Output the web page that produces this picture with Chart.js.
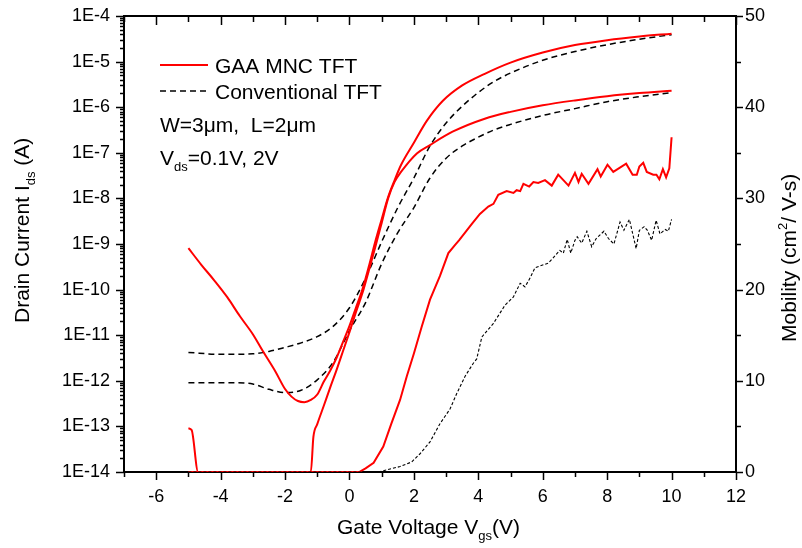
<!DOCTYPE html>
<html>
<head>
<meta charset="utf-8">
<script src="https://cdn.jsdelivr.net/npm/chart.js@4.4.1/dist/chart.umd.min.js"></script>
<style>
  html, body { margin: 0; padding: 0; background: #fff; }
</style>
</head>
<body>
<canvas id="grafica" width="802" height="548"></canvas>
<script>
// ejes
const vgsTicks = [-6, -4, -2, 0, 2, 4, 6, 8, 10, 12];
const idsTicks = [1e-14, 1e-13, 1e-12, 1e-11, 1e-10, 1e-9, 1e-8, 1e-7, 1e-6, 1e-5, 1e-4];
const idsTickLabels = ['1E-14', '1E-13', '1E-12', '1E-11', '1E-10', '1E-9', '1E-8', '1E-7', '1E-6', '1E-5', '1E-4'];
const mobTicks = [0, 10, 20, 30, 40, 50];

// GAA MNC TFT, Vds = 2V
const vgsGaa2 = [-5, -4.6, -4.2, -3.8, -3.4, -3.0, -2.7, -2.3, -2.0, -1.8, -1.6, -1.4, -1.2, -1.0, -0.8, -0.6, -0.4, -0.2, 0, 0.2, 0.4, 0.6, 0.8, 1.0, 1.2, 1.4, 1.6, 2.0, 2.4, 2.9, 3.5, 4.2, 5.0, 6.0, 7.0, 8.0, 9.0, 10];
const idsGaa2 = [8.1e-10, 3.5e-10, 1.6e-10, 6.9e-11, 2.6e-11, 1.05e-11, 4.6e-12, 1.6e-12, 6.6e-13, 4.5e-13, 3.6e-13, 3.4e-13, 3.8e-13, 5.0e-13, 9.5e-13, 1.66e-12, 3.2e-12, 7.1e-12, 1.6e-11, 4.0e-11, 1.0e-10, 3.2e-10, 1.12e-9, 3.5e-9, 1.07e-8, 2.5e-8, 5.4e-8, 1.66e-7, 5.0e-7, 1.38e-6, 3.0e-6, 5.4e-6, 9.5e-6, 1.58e-5, 2.3e-5, 2.95e-5, 3.55e-5, 4.1e-5];

// GAA MNC TFT, Vds = 0.1V
const vgsGaa01 = [-5, -4.9, -4.7, -1.2, -1.12, -1.0, -0.8, -0.6, -0.4, -0.2, 0, 0.2, 0.4, 0.6, 0.8, 1.0, 1.2, 1.4, 1.6, 2.1, 2.5, 3.2, 4.2, 5.0, 6.0, 7.0, 8.0, 9.0, 10];
const idsGaa01 = [9.1e-14, 8.3e-14, 1e-14, 1e-14, 5.9e-14, 1.12e-13, 2.8e-13, 7.1e-13, 1.74e-12, 4.5e-12, 1.17e-11, 3.2e-11, 8.3e-11, 2.6e-10, 8.5e-10, 2.9e-9, 1.0e-8, 2.3e-8, 3.8e-8, 9.8e-8, 1.48e-7, 2.9e-7, 5.6e-7, 7.9e-7, 1.1e-6, 1.41e-6, 1.74e-6, 2.04e-6, 2.3e-6];

// Conventional TFT, Vds = 2V
const vgsConv2 = [-5, -4, -3, -2.5, -2, -1.5, -1, -0.5, 0, 0.5, 1, 1.5, 2, 2.5, 3, 3.5, 4, 4.5, 5, 6, 7, 8, 9, 10];
const idsConv2 = [4.2e-12, 3.8e-12, 3.9e-12, 4.4e-12, 5.4e-12, 6.8e-12, 9.3e-12, 1.58e-11, 4.0e-11, 1.78e-10, 1.12e-9, 6.3e-9, 2.8e-8, 1.41e-7, 4.5e-7, 1.05e-6, 2.1e-6, 3.7e-6, 5.6e-6, 1.07e-5, 1.66e-5, 2.35e-5, 3.1e-5, 3.9e-5];

// Conventional TFT, Vds = 0.1V
const vgsConv01 = [-5, -4, -3.5, -3, -2.5, -2, -1.5, -1, -0.5, 0, 0.5, 1, 1.5, 2, 2.5, 3, 3.5, 4, 4.5, 5, 6, 7, 8, 9, 10];
const idsConv01 = [9.1e-13, 9.1e-13, 9.1e-13, 8.5e-13, 6.5e-13, 5.5e-13, 6.2e-13, 1.05e-12, 2.6e-12, 1.26e-11, 5.2e-11, 3.7e-10, 1.78e-9, 6.3e-9, 2.8e-8, 7.6e-8, 1.41e-7, 2.2e-7, 3.2e-7, 4.2e-7, 6.6e-7, 9.3e-7, 1.32e-6, 1.7e-6, 2.1e-6];

// movilidad GAA
const vgsMobGaa = [-5, 0.3, 0.5, 0.75, 1.05, 1.3, 1.57, 1.78, 2.0, 2.24, 2.5, 2.81, 3.07, 3.28, 3.4, 3.6, 3.8, 4.05, 4.31, 4.47, 4.62, 4.88, 5.09, 5.19, 5.30, 5.40, 5.58, 5.71, 5.86, 6.07, 6.28, 6.48, 6.80, 7.00, 7.11, 7.21, 7.42, 7.70, 7.80, 8.01, 8.19, 8.59, 8.79, 8.92, 9.0, 9.12, 9.23, 9.43, 9.53, 9.62, 9.73, 9.83, 9.93, 10.0];
const mobGaa = [0, 0, 0.4, 1.0, 2.8, 5.3, 7.9, 10.5, 13.0, 15.9, 18.9, 21.5, 24.0, 24.9, 25.4, 26.3, 27.2, 28.3, 29.1, 29.4, 30.4, 30.8, 30.6, 30.9, 30.8, 31.6, 31.3, 31.8, 31.7, 32.0, 31.4, 32.6, 31.4, 32.8, 31.8, 32.7, 31.6, 33.2, 32.4, 33.7, 32.9, 33.8, 32.6, 32.6, 33.5, 33.9, 32.9, 32.6, 32.6, 32.1, 33.2, 32.3, 33.3, 36.7];

// movilidad convencional
const vgsMobConv = [-5, 0.9, 1.57, 1.93, 2.19, 2.5, 2.81, 3.12, 3.33, 3.59, 3.84, 3.95, 4.11, 4.47, 4.83, 5.09, 5.3, 5.45, 5.61, 5.76, 6.17, 6.33, 6.53, 6.64, 6.76, 6.87, 7.0, 7.07, 7.21, 7.37, 7.52, 7.66, 7.90, 8.04, 8.21, 8.40, 8.52, 8.69, 8.90, 9.0, 9.15, 9.25, 9.38, 9.52, 9.64, 9.80, 9.90, 10.0];
const mobConv = [0, 0, 0.6, 1.1, 2.0, 3.3, 5.3, 6.9, 8.6, 10.5, 11.9, 12.4, 14.8, 16.3, 18.3, 19.2, 20.7, 20.3, 21.3, 22.4, 22.9, 23.5, 24.3, 24.0, 25.5, 24.0, 25.4, 25.8, 25.1, 26.4, 24.7, 25.6, 26.4, 25.6, 25.0, 27.4, 26.5, 27.7, 24.5, 26.5, 26.9, 26.5, 25.4, 27.6, 26.1, 26.6, 26.4, 27.7];

const puntos = (xs, ys) => xs.map((v, i) => ({ x: v, y: ys[i] }));
const FUENTE = '"Liberation Sans", Arial, sans-serif';

// texto con subindices / superindices
function texto(ctx, partes, x, y) {
    let cx = x;
    for (const [t, tipo] of partes) {
        ctx.font = (tipo === 'n' ? '21px ' : '13px ') + FUENTE;
        const dy = tipo === 'sub' ? 6 : tipo === 'sup' ? -9 : 0;
        ctx.fillText(t, cx, y + dy);
        cx += ctx.measureText(t).width;
    }
}

// quita el relleno automatico para que el area quede fija
function sinRelleno(s) {
    s.paddingTop = 0; s.paddingBottom = 0; s.paddingLeft = 0; s.paddingRight = 0;
}

const marco = {
    id: 'marco',
    // marco y marcas debajo de las curvas
    beforeDatasetsDraw(chart) {
        const { ctx, chartArea: a, scales } = chart;
        const sx = scales.x, sy = scales.y, sm = scales.y2;
        ctx.save();
        ctx.strokeStyle = '#000';
        ctx.lineWidth = 1.5;
        ctx.beginPath();
        // x: abajo hacia fuera, arriba hacia dentro
        for (let v = -7; v <= 12; v++) {
            const px = Math.round(sx.getPixelForValue(v)) + 0.5;
            const largo = v % 2 === 0 ? 8 : 5;
            ctx.moveTo(px, a.bottom); ctx.lineTo(px, a.bottom + largo);
            ctx.moveTo(px, a.top); ctx.lineTo(px, a.top + largo + 1);
        }
        // y log: decadas y menores
        for (let e = -14; e <= -4; e++) {
            const d = Math.pow(10, e);
            const py = Math.round(sy.getPixelForValue(d)) + 0.5;
            ctx.moveTo(a.left, py); ctx.lineTo(a.left - 8, py);
            if (e < -4) {
                for (let k = 2; k <= 9; k++) {
                    const pm = Math.round(sy.getPixelForValue(k * d)) + 0.5;
                    ctx.moveTo(a.left, pm); ctx.lineTo(a.left - 4, pm);
                }
            }
        }
        // movilidad
        for (let m = 0; m <= 50; m += 5) {
            const py = Math.round(sm.getPixelForValue(m)) + 0.5;
            ctx.moveTo(a.right, py); ctx.lineTo(a.right + (m % 10 === 0 ? 7 : 5), py);
        }
        ctx.stroke();
        ctx.lineWidth = 2;
        ctx.strokeRect(a.left, a.top, a.right - a.left, a.bottom - a.top);
        ctx.restore();
    },
    afterDatasetsDraw(chart) {
        const { ctx } = chart;
        ctx.save();
        // leyenda
        ctx.fillStyle = '#000';
        ctx.textBaseline = 'alphabetic';
        ctx.textAlign = 'left';
        ctx.strokeStyle = '#ff0000';
        ctx.lineWidth = 2;
        ctx.beginPath(); ctx.moveTo(160, 65); ctx.lineTo(208, 65); ctx.stroke();
        ctx.strokeStyle = '#000';
        ctx.lineWidth = 1.5;
        ctx.setLineDash([6, 4]);
        ctx.beginPath(); ctx.moveTo(160, 91); ctx.lineTo(208, 91); ctx.stroke();
        ctx.setLineDash([]);
        texto(ctx, [['GAA MNC TFT', 'n']], 215, 73);
        texto(ctx, [['Conventional TFT', 'n']], 215, 99);
        texto(ctx, [['W=3\u03bcm,  L=2\u03bcm', 'n']], 160, 132);
        texto(ctx, [['V', 'n'], ['ds', 'sub'], ['=0.1V, 2V', 'n']], 160, 165);

        // titulos de ejes
        texto(ctx, [['Gate Voltage V', 'n'], ['gs', 'sub'], ['(V)', 'n']], 337, 534);
        ctx.save();
        ctx.translate(29, 323);
        ctx.rotate(-Math.PI / 2);
        texto(ctx, [['Drain Current I', 'n'], ['ds', 'sub'], [' (A)', 'n']], 0, 0);
        ctx.restore();
        ctx.save();
        ctx.translate(796, 342);
        ctx.rotate(-Math.PI / 2);
        texto(ctx, [['Mobility (cm', 'n'], ['2', 'sup'], ['/ V-s)', 'n']], 0, 0);
        ctx.restore();
        ctx.restore();
    }
};

const ctx = document.getElementById('grafica').getContext('2d');

const grafica = new Chart(ctx, {
    type: 'line',
    data: {
        datasets: [
            { data: puntos(vgsGaa2, idsGaa2), yAxisID: 'y', borderColor: '#ff0000', borderWidth: 2, cubicInterpolationMode: 'monotone' },
            { data: puntos(vgsGaa01, idsGaa01), yAxisID: 'y', borderColor: '#ff0000', borderWidth: 2, cubicInterpolationMode: 'monotone' },
            { data: puntos(vgsConv2, idsConv2), yAxisID: 'y', borderColor: '#000', borderWidth: 1.5, borderDash: [6, 4], cubicInterpolationMode: 'monotone' },
            { data: puntos(vgsConv01, idsConv01), yAxisID: 'y', borderColor: '#000', borderWidth: 1.5, borderDash: [6, 4], cubicInterpolationMode: 'monotone' },
            { data: puntos(vgsMobGaa, mobGaa), yAxisID: 'y2', borderColor: '#ff0000', borderWidth: 2 },
            { data: puntos(vgsMobConv, mobConv), yAxisID: 'y2', borderColor: '#000', borderWidth: 1.1, borderDash: [3, 2], order: -1 }
        ]
    },
    options: {
        responsive: false,
        animation: false,
        devicePixelRatio: 1,
        layout: { padding: { top: 16, left: 0, right: 0, bottom: 0 } },
        elements: { point: { radius: 0 }, line: { tension: 0, fill: false } },
        plugins: { legend: { display: false }, tooltip: { enabled: false } },
        scales: {
            x: {
                type: 'linear', min: -7, max: 12,
                afterBuildTicks: s => { s.ticks = vgsTicks.map(v => ({ value: v })); },
                afterFit: s => { s.height = 76; sinRelleno(s); },
                grid: { display: false, drawTicks: false },
                border: { display: false },
                ticks: { color: '#000', font: { family: FUENTE, size: 18 }, padding: 14, maxRotation: 0, autoSkip: false }
            },
            y: {
                type: 'logarithmic', position: 'left', min: 1e-14, max: 1e-4,
                afterBuildTicks: s => { s.ticks = idsTicks.map(v => ({ value: v })); },
                afterFit: s => { s.width = 124; sinRelleno(s); },
                grid: { display: false, drawTicks: false },
                border: { display: false },
                ticks: {
                    color: '#000', font: { family: FUENTE, size: 18 }, padding: 14, autoSkip: false,
                    callback: (v, i) => idsTickLabels[i]
                }
            },
            y2: {
                type: 'linear', position: 'right', min: 0, max: 50,
                afterBuildTicks: s => { s.ticks = mobTicks.map(v => ({ value: v })); },
                afterFit: s => { s.width = 66; sinRelleno(s); },
                grid: { display: false, drawTicks: false },
                border: { display: false },
                ticks: { color: '#000', font: { family: FUENTE, size: 18 }, padding: 9, autoSkip: false }
            }
        }
    },
    plugins: [marco]
});
</script>
</body>
</html>
